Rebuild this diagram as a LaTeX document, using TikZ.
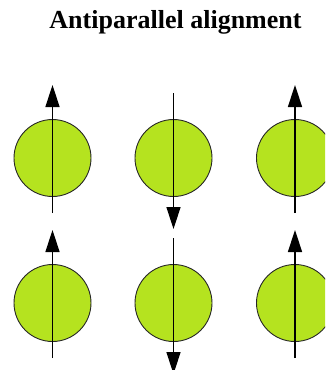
\documentclass[tikz,border=0pt]{standalone}
\usepackage{fontspec}
\setmainfont{Liberation Serif}
\usetikzlibrary{arrows.meta}
\definecolor{atomgreen}{RGB}{181,227,31}
\tikzset{
  atom/.style={circle,draw=black!85,line width=0.9pt,fill=atomgreen,minimum size=77pt,inner sep=0pt},
  spin/.style={line width=1.5pt,-{Triangle[length=22pt,width=14pt]}}
}
\begin{document}
\begin{tikzpicture}[x=1pt,y=-1pt]
        \useasboundingbox (0,0) rectangle (325,370);
        \clip (0,0) rectangle (325,370);
        \node[font=\bfseries\fontsize{26}{30}\selectfont] (title) at (175.5,22) {Antiparallel alignment};
        % atoms, two rows of three
        \foreach \c/\x in {1/52.5,2/173.5,3/295} \foreach \r/\y in {1/158,2/303} {
            \node[atom] (a\c\r) at (\x,\y) {};
        }
        % spins up in the outer columns
        \foreach \c in {1,3} \foreach \r in {1,2} {
            \coordinate (s\c\r) at ([yshift=-55pt]a\c\r.center);
            \coordinate (e\c\r) at ([yshift=73pt]a\c\r.center);
            \draw[spin] (s\c\r) -- (e\c\r);
        }
        % spins down in the middle column
        \foreach \r in {1,2} {
            \coordinate (s2\r) at ([yshift=65pt]a2\r.center);
            \coordinate (e2\r) at ([yshift=-71pt]a2\r.center);
            \draw[spin] (s2\r) -- (e2\r);
        }
    \end{tikzpicture}
\end{document}
